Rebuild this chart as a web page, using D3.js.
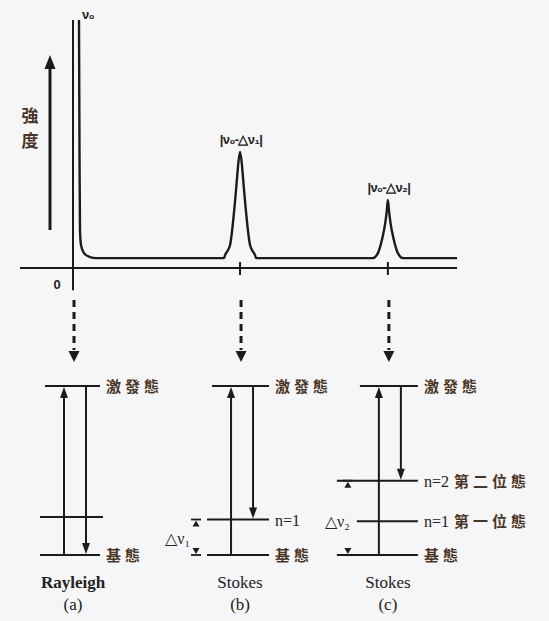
<!DOCTYPE html>
<html>
<head>
<meta charset="utf-8">
<script src="https://cdn.jsdelivr.net/npm/d3@7"></script>
<style>
 body { margin: 0; background: #f6f6f8; }
 svg { display: block; }
 .cjk { font-family: "Noto Sans CJK TC", "Noto Sans CJK SC", sans-serif; font-weight: 700; fill: #4a3526; }
 .lab { font-family: "Liberation Serif", serif; fill: #222; }
</style>
</head>
<body>
<svg width="549" height="621"></svg>
<script>
// The svg
var svg = d3.select("svg"),
 width = +svg.attr("width"),
 height = +svg.attr("height");

// Spectrum (shift units 0..100, intensity 0..100)
var specShift = [1.56, 1.69, 1.82, 2.08, 2.86, 4.43, 6,
 39.3, 39.6, 40.9, 41.94, 42.72, 43.0, 43.5, 44.0, 44.28, 45.06, 46.1, 47.4, 47.7,
 78.1, 79.4, 80.44, 81.35, 81.74, 82, 82.26, 82.65, 83.56, 84.6, 85.9, 100];
var specIntensity = [100, 47.6, 15.3, 9.3, 6.0, 4.4, 4,
 4, 5.2, 9.3, 22.6, 36.3, 41.5, 46.8, 41.5, 36.3, 22.6, 9.3, 5.2, 4,
 4, 6, 11.3, 18.5, 23.4, 27.4, 23.4, 18.5, 11.3, 6, 4, 4];

// Peaks and their labels
var peakShift = [0, 43.5, 82];
var peakLabels = ["\u03bd\u2080", "|\u03bd\u2080-\u25b3\u03bd\u2081|", "|\u03bd\u2080-\u25b3\u03bd\u2082|"];

// Energy diagrams
var panelNames = ["Rayleigh", "Stokes", "Stokes"];
var panelTags = ["(a)", "(b)", "(c)"];
var panelLevels = [[0, 2.25, 10], [0, 2.1, 10], [0, 2.0, 4.4, 10]];
var panelLevelLabels = [["\u57fa\u614b", "", "\u6fc0\u767c\u614b"],
 ["\u57fa\u614b", "n=1", "\u6fc0\u767c\u614b"],
 ["\u57fa\u614b", "n=1 \u7b2c\u4e00\u4f4d\u614b", "n=2 \u7b2c\u4e8c\u4f4d\u614b", "\u6fc0\u767c\u614b"]];
var panelDown = [0, 2.1, 4.4];  // where the emitted photon lands
var deltaLabels = ["", "\u25b3\u03bd\u2081", "\u25b3\u03bd\u2082"];

// Scales
var x = d3.scaleLinear().domain([0, 100]).range([73, 457]);
var y = d3.scaleLinear().domain([0, 100]).range([268, 20]);
var e = d3.scaleLinear().domain([0, 10]).range([555, 386]);

var ink = "#1b1b1b";

// arrowhead
function head(g, cx, tipY, dir, w, h) {
  g.append("path")
    .attr("d", "M" + cx + "," + tipY + "L" + (cx - w / 2) + "," + (tipY - dir * h) + "L" + (cx + w / 2) + "," + (tipY - dir * h) + "Z")
    .attr("fill", ink);
}

// Axes
svg.append("line").attr("x1", x(-13.8)).attr("x2", x(100)).attr("y1", y(0)).attr("y2", y(0))
  .attr("stroke", ink).attr("stroke-width", 2);
svg.append("line").attr("x1", x(0)).attr("x2", x(0)).attr("y1", y(100)).attr("y2", y(-9))
  .attr("stroke", ink).attr("stroke-width", 2);
svg.selectAll(".tick").data(peakShift.slice(1)).enter().append("line")
  .attr("x1", function (d) { return x(d); }).attr("x2", function (d) { return x(d); })
  .attr("y1", y(0) - 6).attr("y2", y(0) + 7)
  .attr("stroke", ink).attr("stroke-width", 2);
svg.append("text").attr("x", 57).attr("y", 289).attr("text-anchor", "middle")
  .attr("font-family", "Liberation Sans, sans-serif").attr("font-weight", 700).attr("font-size", 13)
  .attr("fill", "#222").text("0");

// Intensity arrow
svg.append("line").attr("x1", 50).attr("x2", 50).attr("y1", 230).attr("y2", 66)
  .attr("stroke", ink).attr("stroke-width", 3);
head(svg, 50, 55, -1, 11, 14);
svg.append("text").attr("class", "cjk").attr("x", 30).attr("y", 122).attr("text-anchor", "middle")
  .attr("font-size", 17).text("\u5f37");
svg.append("text").attr("class", "cjk").attr("x", 30).attr("y", 147).attr("text-anchor", "middle")
  .attr("font-size", 17).text("\u5ea6");

// Spectrum curve
var line = d3.line()
  .x(function (d, i) { return x(specShift[i]); })
  .y(function (d) { return y(d); })
  .curve(d3.curveMonotoneX);
svg.append("path").datum(specIntensity).attr("d", line)
  .attr("fill", "none").attr("stroke", ink).attr("stroke-width", 2.4);

// Peak labels
svg.selectAll(".plab").data(peakLabels).enter().append("text")
  .attr("x", function (d, i) { return i == 0 ? x(peakShift[i]) + 9 : x(peakShift[i]) + 1; })
  .attr("y", function (d, i) { return i == 0 ? 19 : y(specIntensity[specShift.indexOf(peakShift[i])]) - 8; })
  .attr("text-anchor", function (d, i) { return i == 0 ? "start" : "middle"; })
  .attr("font-family", "Liberation Sans, sans-serif")
  .attr("font-weight", 700).attr("font-size", 13).attr("letter-spacing", -0.6)
  .attr("fill", "#222").text(function (d) { return d; });

// Dashed arrows down to the diagrams
svg.selectAll(".dash").data(peakShift).enter().append("line")
  .attr("x1", function (d) { return x(d) + 1; }).attr("x2", function (d) { return x(d) + 1; })
  .attr("y1", 300).attr("y2", 350)
  .attr("stroke", ink).attr("stroke-width", 3).attr("stroke-dasharray", "7,5");
peakShift.forEach(function (d) { head(svg, x(d) + 1, 362, 1, 11, 11); });

// Layout of level lines (left offset from panel centre, per level)
var levelLeft = [[-33, -33, -28], [-33, -33, -28], [-51, -31, -51, -28]];
var levelRight = [[27, 30, 27], [29, 29, 29], [30, 30, 30, 30]];
var markOffset = [0, -44, -40];

panelLevels.forEach(function (levels, p) {
  var cx = x(peakShift[p]);
  var g = svg.append("g");

  levels.forEach(function (lv, k) {
    g.append("line").attr("x1", cx + levelLeft[p][k]).attr("x2", cx + levelRight[p][k])
      .attr("y1", e(lv)).attr("y2", e(lv)).attr("stroke", ink).attr("stroke-width", 2);
    var txt = panelLevelLabels[p][k];
    if (!txt) return;
    var t = g.append("text").attr("x", cx + levelRight[p][k] + 6).attr("y", e(lv) + 6).attr("font-size", 15);
    var m = txt.match(/^(n=\d)\s?(.*)$/);
    if (m) {
      t.append("tspan").attr("class", "lab").attr("font-size", 16).text(m[1]);
      if (m[2]) t.append("tspan").attr("class", "cjk").attr("dx", 5).attr("letter-spacing", 4).text(m[2]);
    } else {
      t.attr("class", "cjk").attr("letter-spacing", 4).text(txt);
    }
  });

  // absorption (up) and emission (down)
  var top = d3.max(levels);
  g.append("line").attr("x1", cx - 9).attr("x2", cx - 9).attr("y1", e(0)).attr("y2", e(top) + 8)
    .attr("stroke", ink).attr("stroke-width", 2);
  head(g, cx - 9, e(top) + 1, -1, 8, 11);
  g.append("line").attr("x1", cx + 13).attr("x2", cx + 13).attr("y1", e(top)).attr("y2", e(panelDown[p]) - 8)
    .attr("stroke", ink).attr("stroke-width", 2);
  head(g, cx + 13, e(panelDown[p]) - 1, 1, 8, 11);

  // delta marks
  if (deltaLabels[p]) {
    var mx = cx + markOffset[p];
    var hi = e(panelDown[p]), lo = e(0);
    [[hi, 1], [lo, -1]].forEach(function (m) {
      g.append("line").attr("x1", mx - 5).attr("x2", mx + 5).attr("y1", m[0]).attr("y2", m[0])
        .attr("stroke", ink).attr("stroke-width", 1.8);
      head(g, mx, m[0] + m[1] * 1, -m[1], 7, 6);
    });
    var ly = p == 1 ? (hi + lo) / 2 + 7 : e(2.0) + 6;
    var lx = p == 1 ? mx - 6 : mx + 2;
    g.append("text").attr("class", "lab").attr("x", lx).attr("y", ly)
      .attr("text-anchor", "end").attr("font-size", 16).attr("fill", "#444").text(deltaLabels[p]);
  }

  g.append("text").attr("class", "lab").attr("x", cx).attr("y", 588).attr("text-anchor", "middle")
    .attr("font-size", 17).attr("font-weight", p == 0 ? 700 : 400).text(panelNames[p]);
  g.append("text").attr("class", "lab").attr("x", cx).attr("y", 610).attr("text-anchor", "middle")
    .attr("font-size", 17).text(panelTags[p]);
});
</script>
</body>
</html>
